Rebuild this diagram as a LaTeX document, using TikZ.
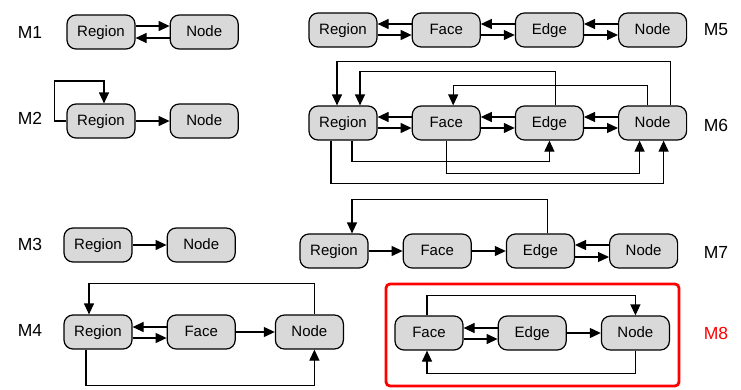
\documentclass[tikz,border=0pt]{standalone}
\usepackage{fontspec}
\setmainfont{Liberation Sans}
\usetikzlibrary{%
  arrows.meta,% wg. Triangle tips
  positioning,% wg. " of "
  calc%
}

\begin{document}
\begin{tikzpicture}[
  x=1pt, y=-1pt,
  font=\fontsize{15}{18}\selectfont,
  >={Triangle[length=11pt,width=10pt]},
  line width=1.2pt,
  node distance=34pt,
  blk/.style={draw, fill=black!15, rounded corners=9pt,
    minimum width=68pt, minimum height=34pt, inner sep=0pt,
    text height=11pt, text depth=3pt},
  lbl/.style={font=\fontsize{17.5}{20}\selectfont},
]
\useasboundingbox (0,0) rectangle (741,389);

% model labels
\foreach \m/\x/\y in {1/30/32, 2/30/118, 3/30/244, 4/30/330,
                      5/716/30, 6/716/125, 7/716/252} {
  \node[lbl] (lbl\m) at (\x,\y) {M\m};
}
\node[lbl, text=red] (lbl8) at (716,333) {M8};

% M1
\node[blk] (r1) at (101,32) {Region};
\node[blk, right=of r1] (n1) {Node};
\draw [->] ([yshift=6pt]r1.east) -- ([yshift=6pt]n1.west);
\draw [->] ([yshift=-6pt]n1.west) -- ([yshift=-6pt]r1.east);

% M2
\node[blk] (r2) at (101,121) {Region};
\node[blk, right=of r2] (n2) {Node};
\draw [->] (r2) -- (n2);
\draw [->] (r2.west) -- ++(-12,0) -- ++(0,-40) -| ([xshift=3pt]r2.north);

% M3
\node[blk] (r3) at (98,245) {Region};
\node[blk, right=of r3] (n3) {Node};
\draw [->] (r3) -- (n3);

% M4
\node[blk] (r4) at (98,332) {Region};
\node[blk, right=of r4] (f4) {Face};
\node[blk, right=39pt of f4] (n4) {Node};
\draw [->] ([yshift=5pt]f4.west) -- ([yshift=5pt]r4.east);
\draw [->] ([yshift=-6pt]r4.east) -- ([yshift=-6pt]f4.west);
\draw [->] (f4) -- (n4);
\draw [->] ([xshift=5pt]n4.north) -- ++(0,-31) -| ([xshift=-9pt]r4.north);
\draw [->] ([xshift=-12pt]r4.south) -- ++(0,36) -| ([xshift=5pt]n4.south);

% M5
\node[blk] (r5) at (343,30) {Region};
\node[blk, right=of r5] (f5) {Face};
\node[blk, right=of f5] (e5) {Edge};
\node[blk, right=of e5] (n5) {Node};
\foreach \a/\b in {r5/f5, f5/e5, e5/n5} {
  \draw [->] ([yshift=6pt]\b.west) -- ([yshift=6pt]\a.east);
  \draw [->] ([yshift=-5pt]\a.east) -- ([yshift=-5pt]\b.west);
}

% M6
\node[blk] (r6) at (343,123) {Region};
\node[blk, right=of r6] (f6) {Face};
\node[blk, right=of f6] (e6) {Edge};
\node[blk, right=of e6] (n6) {Node};
\foreach \a/\b in {r6/f6, f6/e6, e6/n6} {
  \draw [->] ([yshift=6pt]\b.west) -- ([yshift=6pt]\a.east);
  \draw [->] ([yshift=-5pt]\a.east) -- ([yshift=-5pt]\b.west);
}
\draw [->] ([xshift=18pt]n6.north) -- ++(0,-44) -| ([xshift=-6pt]r6.north);
\draw [->] ([xshift=6pt]e6.north) -- ++(0,-34) -| ([xshift=17pt]r6.north);
\draw [->] ([xshift=-5pt]n6.north) -- ++(0,-20) -| ([xshift=7pt]f6.north);
\draw [->] ([xshift=9pt]r6.south) -- ++(0,21) -| (e6.south);
\draw [->] (f6.south) -- ++(0,33) -| ([xshift=-13pt]n6.south);
\draw [->] ([xshift=-12pt]r6.south) -- ++(0,43) -| ([xshift=11pt]n6.south);

% M7
\node[blk] (r7) at (334,251) {Region};
\node[blk, right=of r7] (f7) {Face};
\node[blk, right=of f7] (e7) {Edge};
\node[blk, right=of e7] (n7) {Node};
\draw [->] (r7) -- (f7);
\draw [->] (f7) -- (e7);
\draw [->] ([yshift=6pt]n7.west) -- ([yshift=6pt]e7.east);
\draw [->] ([yshift=-6pt]e7.east) -- ([yshift=-6pt]n7.west);
\draw [->] ([xshift=7pt]e7.north) -- ++(0,-34) -| ([xshift=18pt]r7.north);

% M8
\draw[red, line width=2.8pt, rounded corners=4pt] (386,284) rectangle (679,386);
\node[blk] (f8) at (429,333) {Face};
\node[blk, right=of f8] (e8) {Edge};
\node[blk, right=of e8] (n8) {Node};
\draw [->] ([yshift=5pt]e8.west) -- ([yshift=5pt]f8.east);
\draw [->] ([yshift=-6pt]f8.east) -- ([yshift=-6pt]e8.west);
\draw [->] (e8) -- (n8);
\draw [->] ([xshift=-2pt]f8.north) -- ++(0,-20) -| (n8.north);
\draw [->] (n8.south) -- ++(0,23) -| ([xshift=-2pt]f8.south);

\end{tikzpicture}
\end{document}
